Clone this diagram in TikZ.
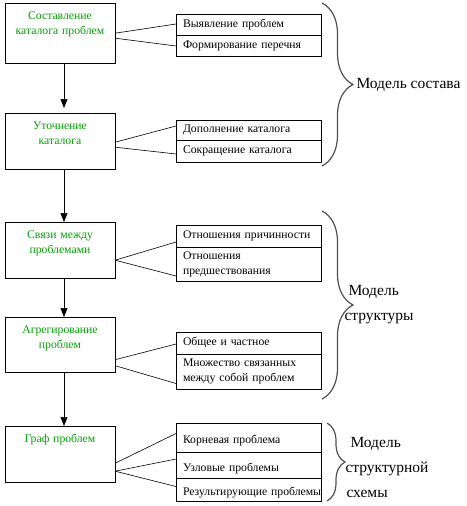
\documentclass[tikz,border=0pt]{standalone}
\usepackage{fontspec}
\setmainfont{Liberation Serif}
\usepackage{tikz}
\usetikzlibrary{positioning,arrows.meta,decorations.pathreplacing}
\definecolor{stagegreen}{RGB}{0,160,0}
\definecolor{bracegray}{RGB}{80,80,80}

\begin{document}
\begin{tikzpicture}[x=1pt,y=-1pt,
  stage/.style={draw, anchor=north, align=center, text width=102pt, inner xsep=4pt, inner ysep=4pt,
    text height=12pt, text depth=36pt, font=\fontsize{11.7}{15}\selectfont, text=stagegreen},
  cell/.style={draw, anchor=north west, align=left, text width=131pt, inner xsep=7pt, inner ysep=2pt,
    outer sep=0pt, font=\fontsize{11.7}{15}\selectfont},
  lowcell/.style={cell, text height=14pt, text depth=2pt},
  link/.style={semithick},
  flow/.style={semithick, -{Triangle[length=9pt,width=7pt]}},
  modelbrace/.style={decorate, decoration={brace, amplitude=#1}, draw=bracegray, line width=1.2pt},
  modeltext/.style={anchor=west, align=left, font=\fontsize{15.5}{25}\selectfont}]
\useasboundingbox (0,0) rectangle (466,506);

\node[stage, text depth=40pt] (b1) at (60,3) {Составление\\каталога проблем};
\node[stage] (b2) at (60,113) {Уточнение\\каталога};
\node[stage] (b3) at (60,222) {Связи между\\проблемами};
\node[stage, text depth=35pt] (b4) at (60,317) {Агрегирование\\проблем};
\node[stage] (b5) at (60,426) {Граф проблем};

\draw[flow] ([xshift=4pt]b1.south) -- ([xshift=4pt,yshift=5pt]b2.north);
\draw[flow] ([xshift=4pt]b2.south) -- ([xshift=4pt]b3.north);
\draw[flow] ([xshift=4pt]b3.south) -- ([xshift=4pt]b4.north);
\draw[flow] ([xshift=4pt]b4.south) -- ([xshift=4pt]b5.north);

\node[cell, minimum height=21pt] (c11) at (176,14) {Выявление проблем};
\node[cell, minimum height=21pt, below=0pt of c11] (c12) {Формирование перечня};
\node[cell, minimum height=20pt] (c21) at (176,120) {Дополнение каталога};
\node[cell, minimum height=22pt, below=0pt of c21] (c22) {Сокращение каталога};
\node[cell, minimum height=22pt] (c31) at (176,225) {Отношения причинности};
\node[cell, minimum height=34pt, below=0pt of c31] (c32) {Отношения\\предшествования};
\node[cell, minimum height=22pt] (c41) at (176,332) {Общее и частное};
\node[cell, minimum height=35pt, below=0pt of c41] (c42) {Множество связанных\\между собой проблем};
\node[lowcell, minimum height=29pt] (c51) at (176,423) {Корневая проблема};
\node[lowcell, minimum height=26pt, below=0pt of c51] (c52) {Узловые проблемы};
\node[lowcell, minimum height=23pt, below=0pt of c52] (c53) {\mbox{Результирующие проблемы}};

\draw[link] (b1.east) -- ([yshift=0.5pt]c11.west);
\draw[link] ([yshift=-5pt]b1.east) -- ([yshift=-0.5pt]c12.west);
\draw[link] ([yshift=-1pt]b2.east) -- ([yshift=4pt]c21.west);
\draw[link] ([yshift=-6pt]b2.east) -- ([yshift=-3pt]c22.west);
\draw[link] ([yshift=-10pt]b3.east) -- ([yshift=-6pt]c31.west);
\draw[link] ([yshift=-10pt]b3.east) -- ([yshift=-12pt]c32.west);
\draw[link] ([yshift=-15pt]b4.east) -- ([yshift=-1pt]c41.west);
\draw[link] ([yshift=-21pt]b4.east) -- ([yshift=-12pt]c42.west);
\draw[link] ([yshift=-9pt]b5.east) -- ([yshift=4pt]c51.west);
\draw[link] ([yshift=-17pt]b5.east) -- ([yshift=6pt]c52.west);
\draw[link] ([yshift=-17pt]b5.east) -- ([yshift=3pt]c53.west);

\coordinate (m1top) at (322,3);
\coordinate (m1bot) at (322,166);
\coordinate (m2top) at (322,211);
\coordinate (m2bot) at (322,399);
\coordinate (m3top) at (327,423);
\coordinate (m3bot) at (327,501);
\draw[modelbrace=31pt] (m1top) -- (m1bot);
\draw[modelbrace=31pt] (m2top) -- (m2bot);
\draw[modelbrace=18pt] (m3top) -- (m3bot);

\node[modeltext] (t1) at (353,85) {Модель состава};
\node[modeltext] (t2) at (341,305) {\hspace*{4pt}Модель\\структуры};
\node[modeltext] (t3) at (342,467) {\hspace*{5pt}Модель\\структурной\\\hspace*{1pt}схемы};
\end{tikzpicture}
\end{document}
